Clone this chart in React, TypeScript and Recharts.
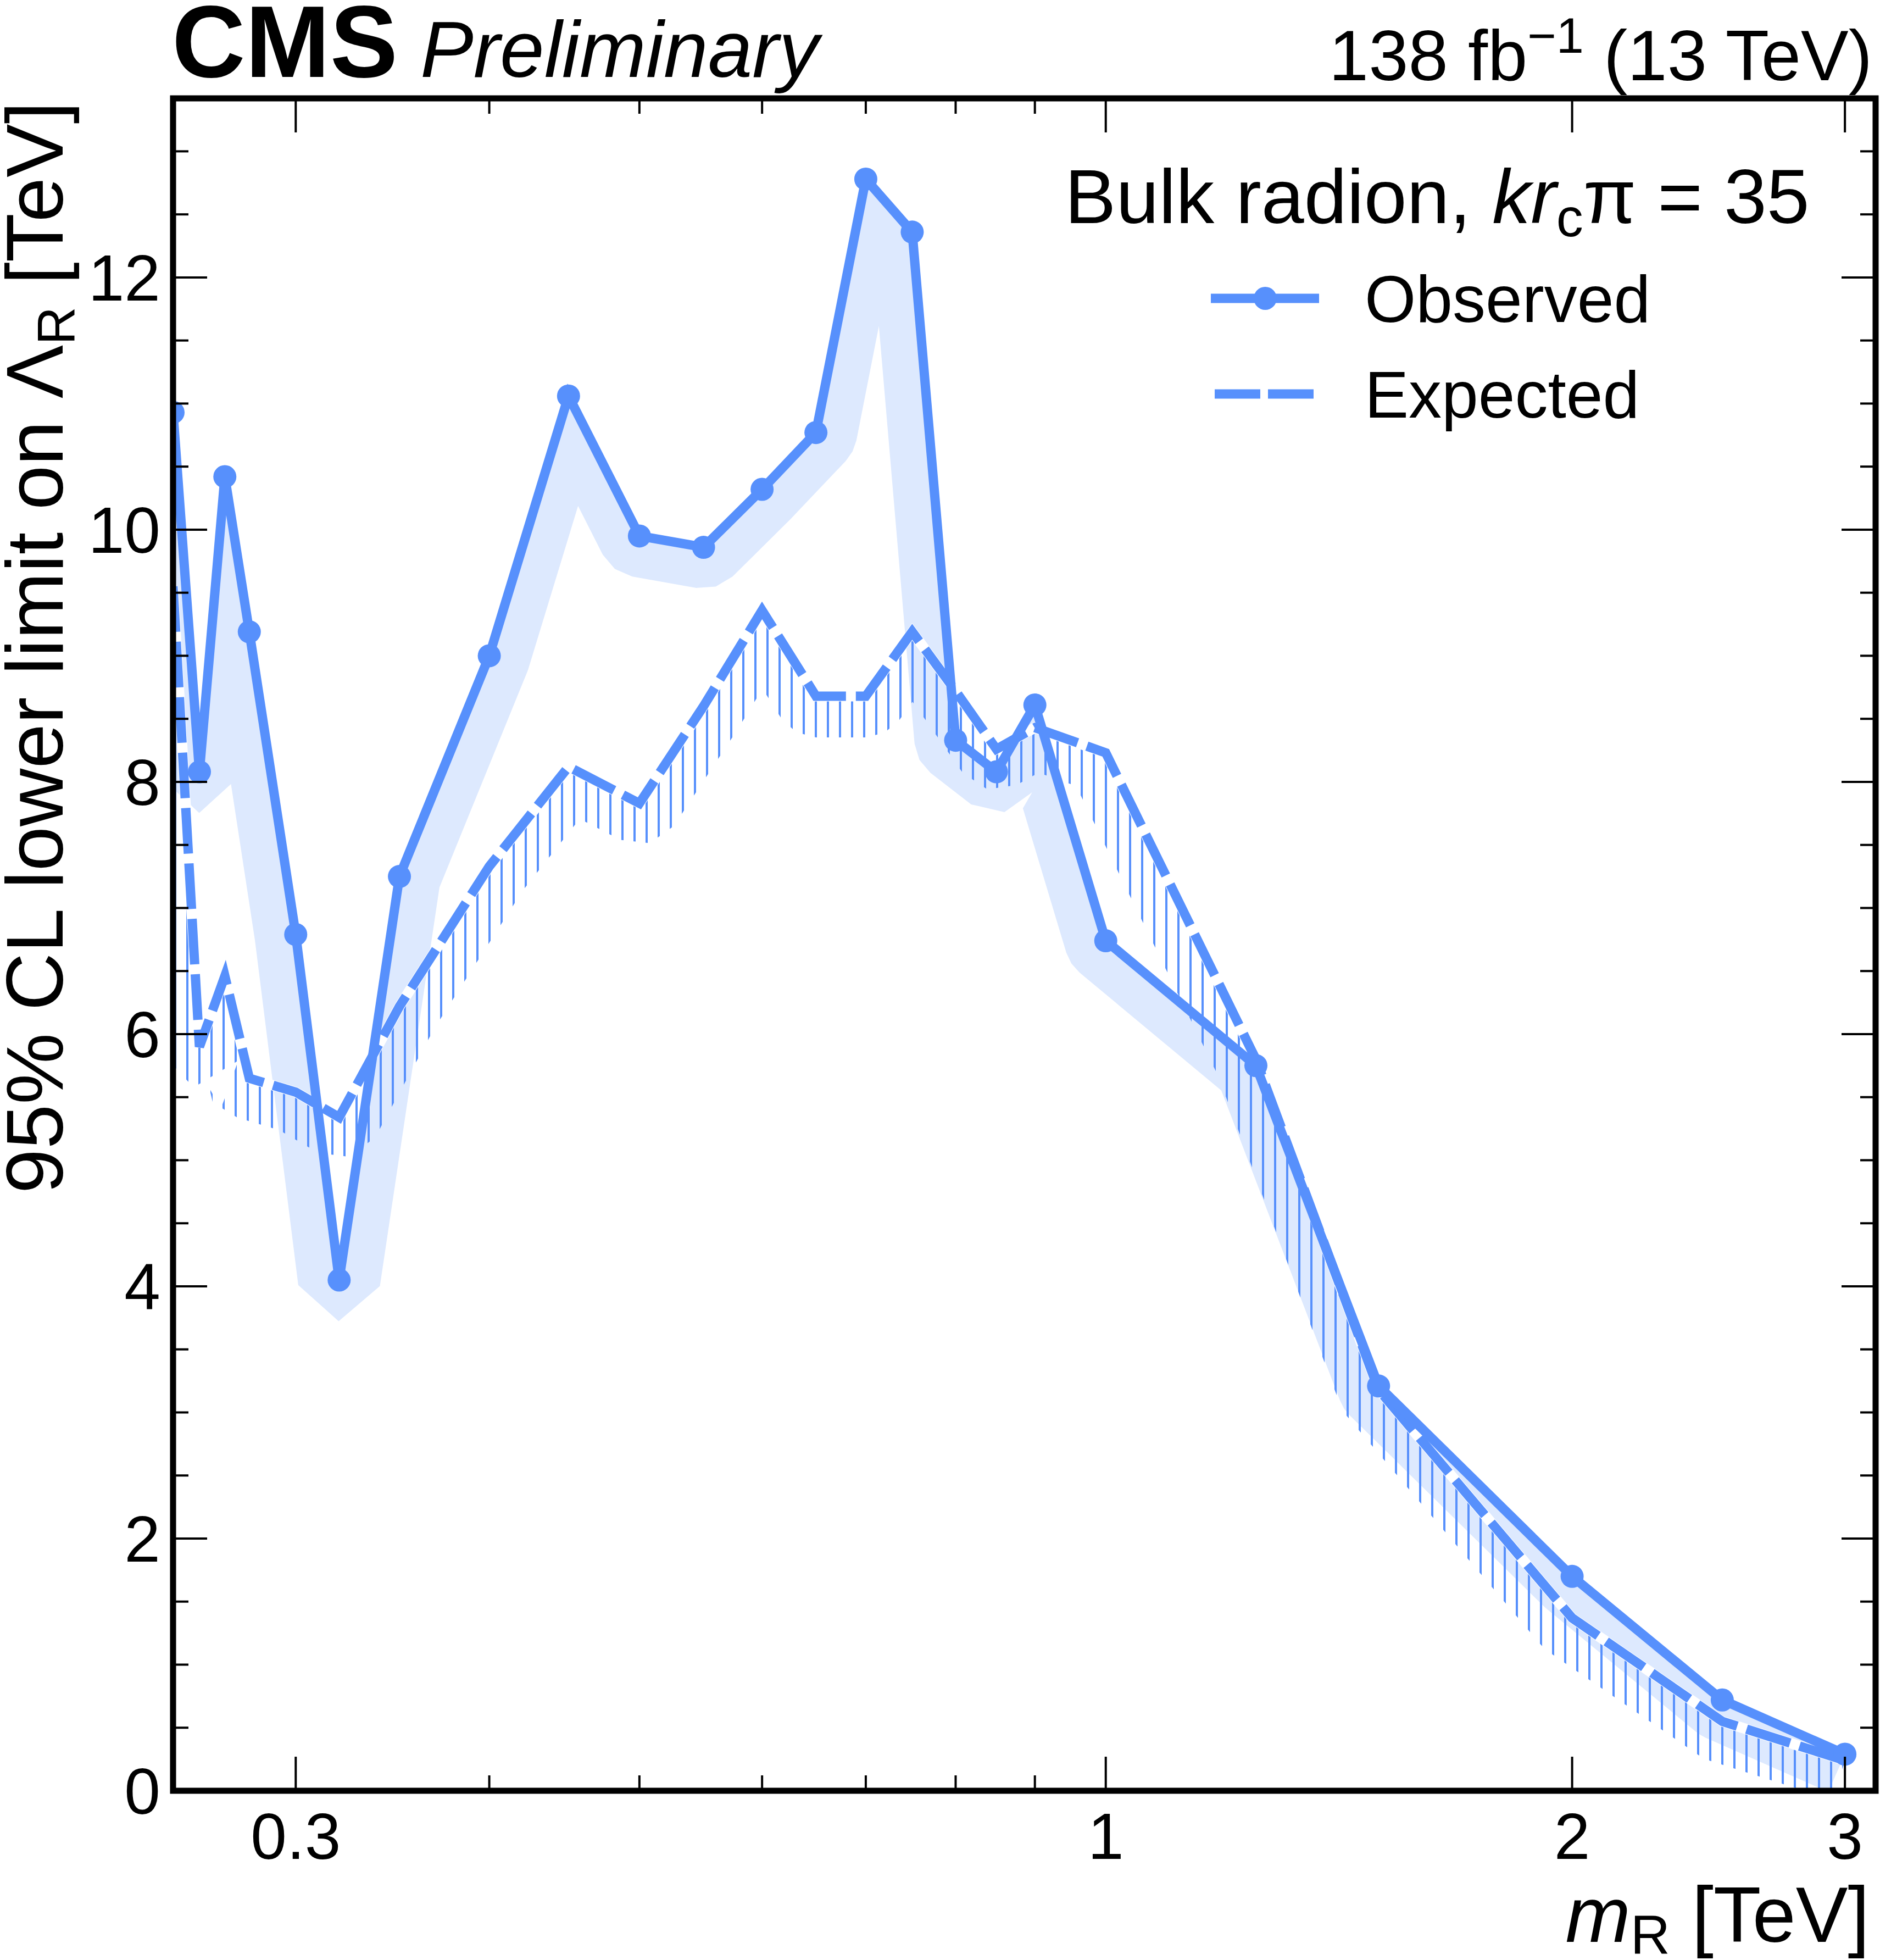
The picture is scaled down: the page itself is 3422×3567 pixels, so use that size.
import React from "react";
import { ComposedChart, Line, XAxis, YAxis } from "recharts";

// resonance masses [TeV] and 95% CL lower limits on Lambda_R [TeV]
const MASS = [0.25, 0.26, 0.27, 0.28, 0.3, 0.32, 0.35, 0.4, 0.45, 0.5, 0.55, 0.6, 0.65, 0.7, 0.75, 0.8, 0.85, 0.9, 1.0, 1.25, 1.5, 2.0, 2.5, 3.0];
const OBSERVED = [10.93, 8.08, 10.42, 9.19, 6.79, 4.05, 7.25, 9.0, 11.06, 9.95, 9.86, 10.32, 10.77, 12.78, 12.36, 8.33, 8.08, 8.61, 6.74, 5.75, 3.21, 1.7, 0.72, 0.29];
const EXPECTED = [9.55, 5.9, 6.46, 5.65, 5.54, 5.34, 6.22, 7.33, 8.12, 7.83, 8.6, 9.36, 8.68, 8.68, 9.19, 8.72, 8.26, 8.43, 8.23, 5.8, 3.18, 1.37, 0.55, 0.24];

const X_TICKS = [0.3, 0.4, 0.5, 0.6, 0.7, 0.8, 0.9, 1, 2, 3];
const X_LABELS = [0.3, 1, 2, 3];
const Y_TICKS = [0, 0.5, 1, 1.5, 2, 2.5, 3, 3.5, 4, 4.5, 5, 5.5, 6, 6.5, 7, 7.5, 8, 8.5, 9, 9.5, 10, 10.5, 11, 11.5, 12, 12.5, 13];
const Y_LABELS = [0, 2, 4, 6, 8, 10, 12];

const X_MIN = 0.25;
const X_MAX = 3.14;
const Y_MAX = 13.42;

const W = 3422;
const H = 3567;
const PLOT = { left: 315, top: 179, right: 3414, bottom: 3259 };
const AXIS_W = 200;
const AXIS_H = 200;

const BLUE = "#5790fc";
const BAND = "#dde9fe";
const FONT = "'Liberation Sans', Arial, Helvetica, sans-serif";
const BAND_WIDTH = 75;
const LINE_W = 17;
const MAJOR_TICK = 62;
const MINOR_TICK = 28;

const rows = MASS.map((m, i) => ({ m, obs: OBSERVED[i], exp: EXPECTED[i] }));

type Pt = { x: number; y: number };

function polyline(pts: Pt[]): string {
  return pts.map((p, i) => `${i === 0 ? "M" : "L"}${p.x.toFixed(1)},${p.y.toFixed(1)}`).join(" ");
}

// one-sided band below a polyline (offset to the right of the travel direction)
function bandPath(pts: Pt[], d: number): string {
  const n = pts.length;
  const normals: Pt[] = [];
  for (let i = 0; i < n - 1; i++) {
    const dx = pts[i + 1].x - pts[i].x;
    const dy = pts[i + 1].y - pts[i].y;
    const L = Math.hypot(dx, dy) || 1;
    normals.push({ x: -dy / L, y: dx / L });
  }
  const off: Pt[] = [];
  off.push({ x: pts[0].x + d * normals[0].x, y: pts[0].y + d * normals[0].y });
  for (let i = 1; i < n - 1; i++) {
    const n1 = normals[i - 1];
    const n2 = normals[i];
    const u1 = { x: n1.y, y: -n1.x };
    const u2 = { x: n2.y, y: -n2.x };
    const cross = u1.x * u2.y - u1.y * u2.x;
    const p = pts[i];
    if (cross > 0) {
      const c = n1.x * n2.x + n1.y * n2.y;
      let k = d / (1 + c);
      const len = k * Math.hypot(n1.x + n2.x, n1.y + n2.y);
      if (len > 4 * d) k *= (4 * d) / len;
      off.push({ x: p.x + k * (n1.x + n2.x), y: p.y + k * (n1.y + n2.y) });
    } else {
      const sx = n1.x + n2.x;
      const sy = n1.y + n2.y;
      const sl = Math.hypot(sx, sy) || 1;
      off.push({ x: p.x + d * n1.x, y: p.y + d * n1.y });
      off.push({ x: p.x + (d * sx) / sl, y: p.y + (d * sy) / sl });
      off.push({ x: p.x + d * n2.x, y: p.y + d * n2.y });
    }
  }
  const last = normals[n - 2];
  off.push({ x: pts[n - 1].x + d * last.x, y: pts[n - 1].y + d * last.y });

  const back = off
    .slice()
    .reverse()
    .map((p) => `L${p.x.toFixed(1)},${p.y.toFixed(1)}`)
    .join(" ");
  return `${polyline(pts)} ${back} Z`;
}

// gathers the pixel positions recharts gives each point, then draws once at the last one
const collected: Record<string, Pt[]> = {};

function drawFromPoints(key: string, draw: (pts: Pt[]) => React.ReactElement) {
  return (props: any) => {
    const { cx, cy, index } = props;
    if (index === 0 || !collected[key]) collected[key] = [];
    collected[key][index] = { x: cx, y: cy };
    if (index !== MASS.length - 1) return <g key={`${key}-${index}`} />;
    const pts: Pt[] =
      Array.isArray(props.points) && props.points.length === MASS.length
        ? props.points.map((p: any) => ({ x: p.x, y: p.y }))
        : collected[key];
    return React.cloneElement(draw(pts), { key: `${key}-path` });
  };
}

const obsBand = drawFromPoints("obsBand", (pts) => (
  <path d={bandPath(pts, BAND_WIDTH)} fill={BAND} stroke="none" clipPath="url(#plotClip)" />
));
const expBand = drawFromPoints("expBand", (pts) => (
  <path d={bandPath(pts, BAND_WIDTH)} fill="url(#hatch)" stroke="none" clipPath="url(#plotClip)" />
));
const expUnder = drawFromPoints("expUnder", (pts) => (
  <path d={polyline(pts)} fill="none" stroke="#fff" strokeWidth={LINE_W + 2} clipPath="url(#plotClip)" />
));
const expDash = drawFromPoints("expDash", (pts) => (
  <path
    d={polyline(pts)}
    fill="none"
    stroke={BLUE}
    strokeWidth={LINE_W}
    strokeDasharray="83 18"
    clipPath="url(#plotClip)"
  />
));
const obsLine = drawFromPoints("obsLine", (pts) => (
  <path d={polyline(pts)} fill="none" stroke={BLUE} strokeWidth={LINE_W} strokeLinejoin="miter" clipPath="url(#plotClip)" />
));

function XTick(props: any) {
  const { x, y, payload } = props;
  const v = payload.value;
  const major = X_LABELS.includes(v);
  const len = major ? MAJOR_TICK : MINOR_TICK;
  return (
    <g>
      <line x1={x} x2={x} y1={y} y2={y - len} stroke="#000" strokeWidth={4} />
      <line x1={x} x2={x} y1={PLOT.top} y2={PLOT.top + len} stroke="#000" strokeWidth={4} />
      {major && (
        <text x={x} y={y + 124} textAnchor="middle" fontSize={118} fontFamily={FONT} fill="#000">
          {String(v)}
        </text>
      )}
    </g>
  );
}

function YTick(props: any) {
  const { x, y, payload } = props;
  const v = payload.value;
  const major = Y_LABELS.includes(v);
  const len = major ? MAJOR_TICK : MINOR_TICK;
  return (
    <g>
      <line x1={x} x2={x + len} y1={y} y2={y} stroke="#000" strokeWidth={4} />
      <line x1={PLOT.right} x2={PLOT.right - len} y1={y} y2={y} stroke="#000" strokeWidth={4} />
      {major && (
        <text x={x - 23} y={y + 42} textAnchor="end" fontSize={118} fontFamily={FONT} fill="#000">
          {String(v)}
        </text>
      )}
    </g>
  );
}

export default function App() {
  return (
    <div style={{ position: "relative", width: W, height: H, background: "#fff" }}>
      <style>{`body{margin:0;background:#fff}`}</style>
      <svg width={0} height={0} style={{ position: "absolute" }}>
        <defs>
          <clipPath id="plotClip">
            <rect x={PLOT.left} y={PLOT.top} width={PLOT.right - PLOT.left} height={PLOT.bottom - PLOT.top} />
          </clipPath>
          <pattern id="hatch" patternUnits="userSpaceOnUse" width={22} height={22}>
            <rect x={9} y={0} width={4} height={22} fill={BLUE} />
          </pattern>
        </defs>
      </svg>

      <ComposedChart
        width={W}
        height={H}
        data={rows}
        margin={{
          top: PLOT.top,
          right: W - PLOT.right,
          bottom: H - PLOT.bottom - AXIS_H,
          left: PLOT.left - AXIS_W,
        }}
      >
        <XAxis
          dataKey="m"
          type="number"
          scale="log"
          domain={[X_MIN, X_MAX]}
          allowDataOverflow
          ticks={X_TICKS}
          interval={0}
          tick={<XTick />}
          tickSize={0}
          tickMargin={0}
          tickLine={false}
          axisLine={false}
          height={AXIS_H}
        />
        <YAxis
          type="number"
          domain={[0, Y_MAX]}
          allowDataOverflow
          ticks={Y_TICKS}
          interval={0}
          tick={<YTick />}
          tickSize={0}
          tickMargin={0}
          tickLine={false}
          axisLine={false}
          width={AXIS_W}
        />

        {/* shaded band under observed, hatched band under expected */}
        <Line dataKey="obs" stroke="none" dot={obsBand} activeDot={false} isAnimationActive={false} />
        <Line dataKey="exp" stroke="none" dot={expBand} activeDot={false} isAnimationActive={false} />
        {/* expected: white under-stroke so the dash gaps read white */}
        <Line dataKey="exp" stroke="none" dot={expUnder} activeDot={false} isAnimationActive={false} />
        <Line dataKey="exp" stroke="none" dot={expDash} activeDot={false} isAnimationActive={false} />
        {/* observed line + markers */}
        <Line dataKey="obs" stroke="none" dot={obsLine} activeDot={false} isAnimationActive={false} />
        <Line
          dataKey="obs"
          stroke="none"
          dot={{ r: 21, fill: BLUE, stroke: "none" }}
          activeDot={false}
          isAnimationActive={false}
        />
      </ComposedChart>

      <svg
        width={W}
        height={H}
        style={{ position: "absolute", left: 0, top: 0, pointerEvents: "none" }}
        fontFamily={FONT}
      >
        <rect
          x={PLOT.left}
          y={PLOT.top}
          width={PLOT.right - PLOT.left}
          height={PLOT.bottom - PLOT.top}
          fill="none"
          stroke="#000"
          strokeWidth={11}
        />

        <text x={313} y={140} fontSize={185} fontWeight="bold" fill="#000">
          CMS
        </text>
        <text x={765} y={140} fontSize={145} fontStyle="italic" fill="#000">
          Preliminary
        </text>
        <text x={3408} y={146} fontSize={130} textAnchor="end" fill="#000" style={{ whiteSpace: "pre" }}>
          138 fb
          <tspan fontSize={90} dy={-50}>
            −1
          </tspan>
          <tspan dy={50}> (13 TeV)</tspan>
        </text>

        {/* legend */}
        <text x={1938} y={406} fontSize={140} fill="#000" style={{ whiteSpace: "pre" }}>
          Bulk radion,{" "}
          <tspan fontStyle="italic">kr</tspan>
          <tspan fontSize={98} dy={24}>
            c
          </tspan>
          <tspan dy={-24}>π = 35</tspan>
        </text>
        <line x1={2204} x2={2401} y1={543} y2={543} stroke={BLUE} strokeWidth={LINE_W} />
        <circle cx={2303} cy={543} r={21} fill={BLUE} />
        <text x={2484} y={586} fontSize={120} fill="#000">
          Observed
        </text>
        <line x1={2211} x2={2391} y1={717} y2={717} stroke={BLUE} strokeWidth={LINE_W} strokeDasharray="83 14" />
        <text x={2484} y={760} fontSize={120} fill="#000">
          Expected
        </text>

        {/* axis titles */}
        <text
          x={114}
          y={185}
          transform="rotate(-90, 114, 185)"
          textAnchor="end"
          fontSize={146}
          fill="#000"
          style={{ whiteSpace: "pre" }}
        >
          95% CL lower limit on Λ
          <tspan fontSize={96} dy={22}>
            R
          </tspan>
          <tspan dy={-22}> [TeV]</tspan>
        </text>
        <text x={3403} y={3534} textAnchor="end" fontSize={142} fill="#000" style={{ whiteSpace: "pre" }}>
          <tspan fontStyle="italic">m</tspan>
          <tspan fontSize={100} dy={22}>
            R
          </tspan>
          <tspan dy={-22}> [TeV]</tspan>
        </text>
      </svg>
    </div>
  );
}
